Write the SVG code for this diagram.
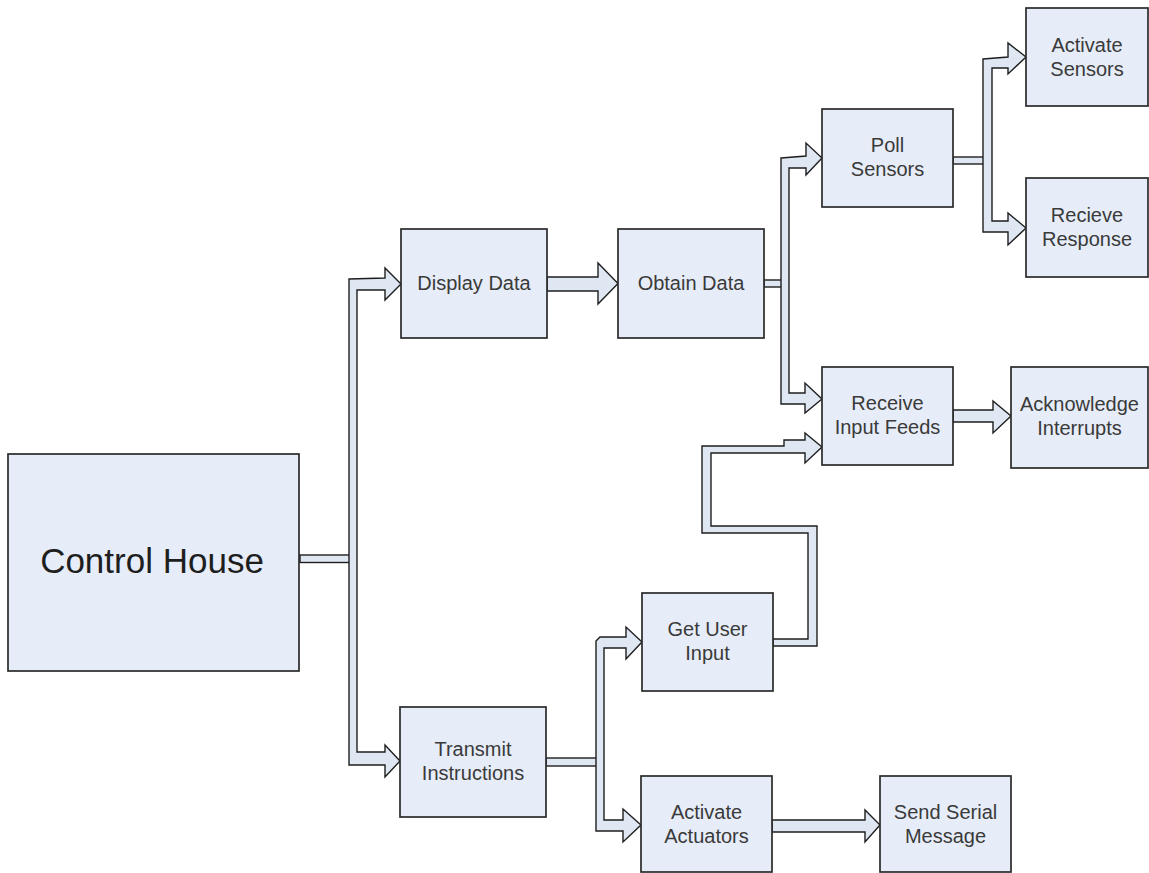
<svg xmlns="http://www.w3.org/2000/svg" width="1149" height="873" viewBox="0 0 1149 873">
<style>
.box{fill:#e6edf8;stroke:#2a2a2a;stroke-width:1.7}
.con{fill:#dfe7f3;stroke:#1e1e1e;stroke-width:1.4;stroke-linejoin:miter}
.t{font-family:"Liberation Sans",Arial,sans-serif;font-size:20px;fill:#3a3a3a;text-anchor:middle}
.big{font-family:"Liberation Sans",Arial,sans-serif;font-size:35px;fill:#1e1e1e;text-anchor:middle}
</style>
<rect width="1149" height="873" fill="#ffffff"/>
<g id="connectors">
  <rect class="con" x="300" y="555" width="50" height="7.5"/>
  <polygon class="con" points="349,279 385,278 385,268 401,284 385,300 385,290 357,290 357,752 385,752 385,745 400,761 385,777 385,765 349,765"/>
  <polygon class="con" points="547,277 598,277 598,263 618,283.5 598,304 598,291 547,291"/>
  <rect class="con" x="764" y="280" width="18" height="7"/>
  <polygon class="con" points="781,158 806,156 806,143 822,158 806,175 806,168 789,168 789,393 805,393 805,383 822,399 805,413 805,404 781,404"/>
  <rect class="con" x="953" y="157" width="31" height="7"/>
  <polygon class="con" points="983,59 1008,57 1008,43 1026,57 1008,74 1008,68 992,68 992,221 1008,221 1008,213 1026,228 1008,245 1008,232 983,232"/>
  <polygon class="con" points="953,410 993,410 993,401 1011,416 993,433 993,422 953,422"/>
  <rect class="con" x="546" y="758" width="54" height="8"/>
  <polygon class="con" points="596,641 600,637 626,637 626,627 642,642 626,659 626,648 604,648 604,820 623,820 623,809 641,825 623,842 623,831 596,831"/>
  <polygon class="con" points="772,820 865,820 865,810 880,825 865,842 865,832 772,832"/>
  <polygon class="con" points="773,646 817,646 817,526 711,526 711,453 805,453 805,463 822,447 805,433 805,440 784,440 784,446 702,446 702,533 808,533 808,639 773,639"/>
</g>
<g id="control-house">
  <rect class="box" x="8" y="454" width="291" height="217"/>
  <text class="big" x="152" y="573">Control House</text>
</g>
<g id="display-data">
  <rect class="box" x="401" y="229" width="146" height="109"/>
  <text class="t" x="474" y="290">Display Data</text>
</g>
<g id="obtain-data">
  <rect class="box" x="618" y="229" width="146" height="109"/>
  <text class="t" x="691" y="290">Obtain Data</text>
</g>
<g id="poll-sensors">
  <rect class="box" x="822" y="109" width="131" height="98"/>
  <text class="t" x="887.5" y="152">Poll</text>
  <text class="t" x="887.5" y="176">Sensors</text>
</g>
<g id="activate-sensors">
  <rect class="box" x="1026" y="8" width="122" height="98"/>
  <text class="t" x="1087" y="52">Activate</text>
  <text class="t" x="1087" y="76">Sensors</text>
</g>
<g id="recieve-response">
  <rect class="box" x="1026" y="178" width="122" height="99"/>
  <text class="t" x="1087" y="222">Recieve</text>
  <text class="t" x="1087" y="246">Response</text>
</g>
<g id="receive-input-feeds">
  <rect class="box" x="822" y="367" width="131" height="98"/>
  <text class="t" x="887.5" y="410">Receive</text>
  <text class="t" x="887.5" y="434">Input Feeds</text>
</g>
<g id="acknowledge-interrupts">
  <rect class="box" x="1011" y="367" width="137" height="101"/>
  <text class="t" x="1079.5" y="411">Acknowledge</text>
  <text class="t" x="1079.5" y="435">Interrupts</text>
</g>
<g id="get-user-input">
  <rect class="box" x="642" y="593" width="131" height="98"/>
  <text class="t" x="707.5" y="636">Get User</text>
  <text class="t" x="707.5" y="660">Input</text>
</g>
<g id="transmit-instructions">
  <rect class="box" x="400" y="707" width="146" height="110"/>
  <text class="t" x="473" y="756">Transmit</text>
  <text class="t" x="473" y="780">Instructions</text>
</g>
<g id="activate-actuators">
  <rect class="box" x="641" y="776" width="131" height="96"/>
  <text class="t" x="706.5" y="819">Activate</text>
  <text class="t" x="706.5" y="843">Actuators</text>
</g>
<g id="send-serial-message">
  <rect class="box" x="880" y="776" width="131" height="96"/>
  <text class="t" x="945.5" y="819">Send Serial</text>
  <text class="t" x="945.5" y="843">Message</text>
</g>
</svg>
